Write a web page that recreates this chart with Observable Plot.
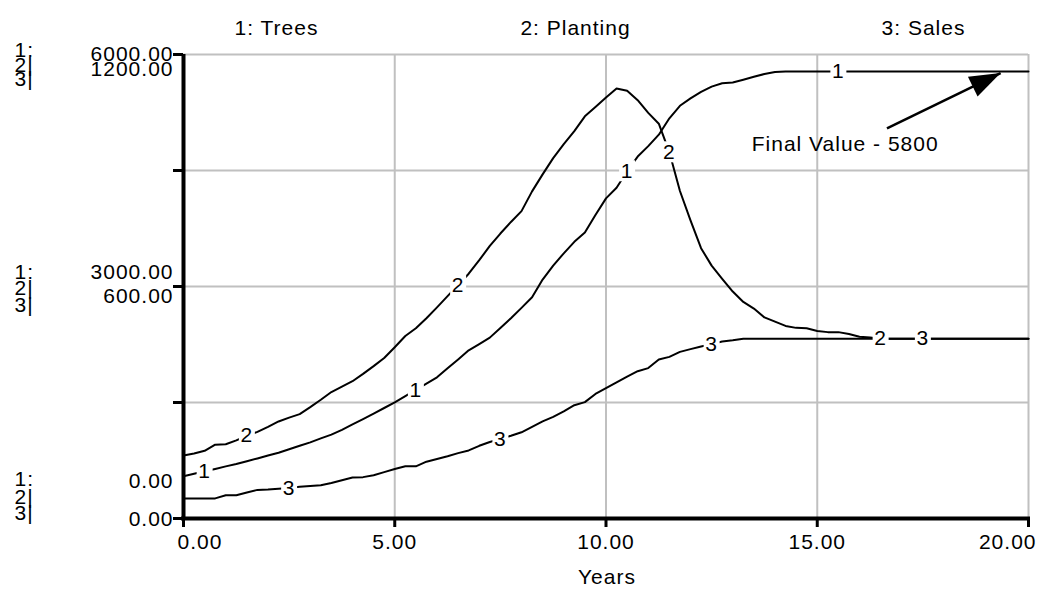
<!DOCTYPE html>
<html>
<head>
<meta charset="utf-8">
<script src="https://cdn.jsdelivr.net/npm/d3@7"></script>
<script src="https://cdn.jsdelivr.net/npm/@observablehq/plot@0.6"></script>
<style>
  body { margin: 0; background: #ffffff; }
  #chart svg text { letter-spacing: 1px; }
</style>
</head>
<body>
<div id="chart"></div>
<script>
// ---- data ----
const years = [
  0, 0.25, 0.5, 0.75, 1, 1.25, 1.5, 1.75,
  2, 2.25, 2.5, 2.75, 3, 3.25, 3.5, 3.75,
  4, 4.25, 4.5, 4.75, 5, 5.25, 5.5, 5.75,
  6, 6.25, 6.5, 6.75, 7, 7.25, 7.5, 7.75,
  8, 8.25, 8.5, 8.75, 9, 9.25, 9.5, 9.75,
  10, 10.25, 10.5, 10.75, 11, 11.25, 11.5, 11.75,
  12, 12.25, 12.5, 12.75, 13, 13.25, 13.5, 13.75,
  14, 14.25, 14.5, 14.75, 15, 15.25, 15.5, 15.75,
  16, 16.25, 16.5, 16.75, 17, 17.25, 17.5, 17.75,
  18, 18.25, 18.5, 18.75, 19, 19.25, 19.5, 19.75,
  20];

const trees = [
  547, 578, 610, 641, 674, 705, 741, 777,
  815, 851, 895, 940, 985, 1036, 1084, 1147,
  1216, 1285, 1357, 1429, 1503, 1583, 1664, 1744,
  1826, 1942, 2057, 2175, 2255, 2339, 2463, 2590,
  2724, 2860, 3090, 3269, 3429, 3578, 3697, 3925,
  4140, 4276, 4490, 4680, 4815, 4963, 5175, 5337,
  5432, 5516, 5584, 5629, 5637, 5674, 5712, 5748,
  5775, 5780, 5780, 5780, 5780, 5780, 5780, 5780,
  5780, 5780, 5780, 5780, 5780, 5780, 5780, 5780,
  5780, 5780, 5780, 5780, 5780, 5780, 5780, 5780,
  5780];

const planting = [
  163, 168, 175, 191, 192, 202, 214, 224,
  237, 251, 261, 270, 288, 307, 327, 341,
  355, 374, 394, 415, 443, 472, 492, 518,
  546, 575, 604, 633, 668, 705, 737, 767,
  795, 846, 890, 932, 968, 1002, 1040, 1064,
  1089, 1112, 1106, 1082, 1049, 1021, 947, 847,
  771, 699, 654, 620, 587, 560, 543, 520,
  509, 498, 493, 492, 485, 482, 482, 477,
  470, 468, 465, 465, 465, 465, 465, 465,
  465, 465, 465, 465, 465, 465, 465, 465,
  465];

const sales = [
  52, 52, 52, 52, 60, 60, 67, 74,
  75, 77, 79, 82, 84, 86, 92, 99,
  106, 107, 112, 120, 128, 135, 135, 147,
  154, 161, 169, 176, 188, 198, 206, 214,
  223, 237, 251, 263, 277, 293, 301, 322,
  337, 352, 367, 381, 389, 411, 418, 431,
  438, 445, 451, 458, 461, 465, 465, 465,
  465, 465, 465, 465, 465, 465, 465, 465,
  465, 465, 465, 465, 465, 465, 465, 465,
  465, 465, 465, 465, 465, 465, 465, 465,
  465];

const seriesNames = ["1: Trees", "2: Planting", "3: Sales"];
const seriesMax = [6000, 1200, 1200];
const labelYears = [[0.5, 5.5, 10.5, 15.5], [1.5, 6.5, 11.5, 16.5], [2.5, 7.5, 12.5, 17.5]];

const xTicks = [0, 5, 10, 15, 20];
const xTickLabels = ["0.00", "5.00", "10.00", "15.00", "20.00"];
const yTicks = [0, 1500, 3000, 4500, 6000];
const treesTickLabels = ["0.00", "3000.00", "6000.00"];
const plantingTickLabels = ["0.00", "600.00", "1200.00"];
const xLabel = "Years";

const annotationText = "Final Value - 5800";
const arrowStart = {x: 16.65, y: 5045};
const arrowEnd = {x: 19.34, y: 5760};
const annotationPos = {x: 13.45, y: 4843};

// ---- tables ----
const allSeries = [trees, planting, sales];
const rows = [];
allSeries.forEach((vals, i) => {
  vals.forEach((v, j) => rows.push({series: i + 1, t: years[j], y: v * 6000 / seriesMax[i]}));
});
const labelRows = [];
labelYears.forEach((ts, i) => {
  ts.forEach(t => {
    const r = rows.find(d => d.series === i + 1 && d.t === t);
    labelRows.push(r);
  });
});

const font = "'Liberation Sans', Arial, Helvetica, sans-serif";
const fs = 21;

const leftBlocks = [
  {y: 6000, num1: treesTickLabels[2], num2: plantingTickLabels[2], d1: 0, d2: 15, k: [-4, 11, 25]},
  {y: 3000, num1: treesTickLabels[1], num2: plantingTickLabels[1], d1: -14.5, d2: 9.5, k: [-14.5, 2, 19]},
  {y: 0, num1: treesTickLabels[0], num2: plantingTickLabels[0], d1: -37, d2: 1, k: [-39, -21, -5]}
];

const headSymbol = {
  draw(ctx) {
    ctx.moveTo(0, 0);
    ctx.lineTo(-11, 31);
    ctx.lineTo(11, 31);
    ctx.closePath();
  }
};
// white box that breaks a line behind its numeric label
const boxSymbol = {
  draw(ctx) {
    ctx.rect(-8, -11, 16, 21);
  }
};

const marks = [
  Plot.gridX(xTicks.slice(1), {stroke: "#c0c0c0", strokeOpacity: 1, strokeWidth: 2}),
  Plot.gridY(yTicks.slice(1), {stroke: "#c0c0c0", strokeOpacity: 1, strokeWidth: 2}),
  Plot.axisY(yTicks, {tickSize: 10, strokeWidth: 3, tickFormat: () => "", label: null}),
  Plot.axisX(xTicks, {tickSize: 9, strokeWidth: 3, tickFormat: () => "", label: null}),
  Plot.ruleX([0], {stroke: "black", strokeWidth: 4}),
  Plot.ruleY([0], {stroke: "black", strokeWidth: 4, strokeLinecap: "square"}),
  Plot.line(rows, {x: "t", y: "y", z: "series", stroke: "black", strokeWidth: 2}),
  Plot.dot(labelRows, {x: "t", y: "y", symbol: boxSymbol, fill: "white", stroke: "none", r: 8}),
  Plot.text(labelRows, {x: "t", y: "y", text: d => String(d.series), fill: "black", fontSize: fs}),
  Plot.link([{x1: arrowStart.x, y1: arrowStart.y, x2: arrowEnd.x, y2: arrowEnd.y}], {x1: "x1", y1: "y1", x2: "x2", y2: "y2", stroke: "black", strokeWidth: 2.5}),
  Plot.dot([arrowEnd], {x: "x", y: "y", symbol: headSymbol, rotate: 64, fill: "black", stroke: "none", r: 10}),
  Plot.text([annotationText], {x: annotationPos.x, y: annotationPos.y, text: d => d, textAnchor: "start", fontSize: fs}),
  Plot.text([xTicks[0]], {x: d => d, frameAnchor: "bottom", dy: 30, dx: -6, textAnchor: "start", text: () => xTickLabels[0], fontSize: fs}),
  Plot.text(xTicks.slice(1, 4), {x: d => d, frameAnchor: "bottom", dy: 30, textAnchor: "middle", text: (d, i) => xTickLabels[i + 1], fontSize: fs}),
  Plot.text([xTicks[4]], {x: d => d, frameAnchor: "bottom", dy: 30, dx: 8, textAnchor: "end", text: () => xTickLabels[4], fontSize: fs}),
  Plot.text([xLabel], {x: 10, frameAnchor: "bottom", dy: 65, dx: 1, text: d => d, fontSize: fs})
];

const headerDx = [93, 392, 740];
seriesNames.forEach((name, i) => {
  marks.push(Plot.text([name], {frameAnchor: "top-left", dx: headerDx[i], dy: -34, text: d => d, textAnchor: "middle", fontSize: fs}));
});

leftBlocks.forEach(b => {
  marks.push(Plot.text([b.num1], {y: () => b.y, frameAnchor: "left", dx: -10, dy: b.d1, textAnchor: "end", text: d => d, fontSize: fs}));
  marks.push(Plot.text([b.num2], {y: () => b.y, frameAnchor: "left", dx: -10, dy: b.d2, textAnchor: "end", text: d => d, fontSize: fs}));
  ["1:", "2|", "3|"].forEach((key, i) => {
    marks.push(Plot.text([key], {y: () => b.y, frameAnchor: "left", dx: -169, dy: b.k[i], textAnchor: "start", text: d => d, fontSize: fs}));
  });
});

const chart = Plot.plot({
  width: 1038,
  height: 592,
  marginLeft: 183,
  marginRight: 10,
  marginTop: 54,
  marginBottom: 74,
  x: {domain: [0, 20], axis: null},
  y: {domain: [0, 6000], axis: null},
  style: {fontFamily: font, fontSize: fs + "px", background: "white", color: "black", overflow: "visible"},
  marks
});
document.getElementById("chart").append(chart);
</script>
</body>
</html>
